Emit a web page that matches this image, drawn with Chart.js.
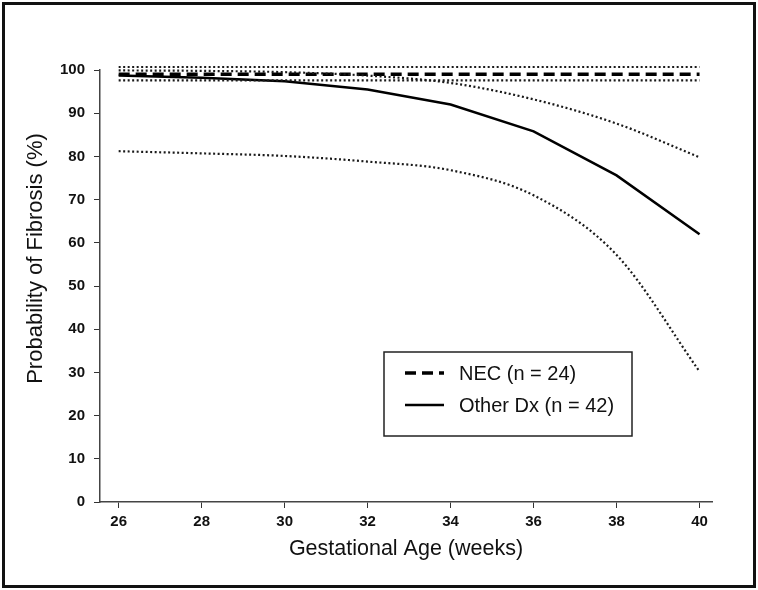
<!DOCTYPE html>
<html>
<head>
<meta charset="utf-8">
<script src="https://cdn.jsdelivr.net/npm/chart.js@4.4.1/dist/chart.umd.min.js"></script>
<style>
  html, body { margin: 0; padding: 0; background: #fff; }
  #wrap { position: relative; width: 758px; height: 590px; }
  #frame { position: absolute; left: 2px; top: 2px; width: 748px; height: 580px; border: 3px solid #111; pointer-events: none; }
  canvas { display: block; }
</style>
</head>
<body>
<div id="wrap">
  <canvas id="fibrosisChart" width="758" height="590"></canvas>
  <div id="frame"></div>
</div>
<script>
// gestational age (weeks)
const ages = [26, 28, 30, 32, 34, 36, 38, 40];
const xTicks = [26, 28, 30, 32, 34, 36, 38, 40];

// NEC (n = 24): estimate with confidence limits
const necEst = [99.0, 99.0, 99.0, 99.0, 99.0, 99.0, 99.0, 99.0];
const necUpper = [100.7, 100.7, 100.7, 100.7, 100.7, 100.7, 100.7, 100.7];
const necLower = [97.6, 97.6, 97.6, 97.6, 97.6, 97.6, 97.6, 97.6];

// Other Dx (n = 42): estimate with confidence limits
const otherEst = [98.7, 98.2, 97.4, 95.5, 92.0, 85.8, 75.6, 62.0];
const otherUpper = [99.9, 99.8, 99.5, 98.7, 97.0, 93.2, 87.6, 79.8];
const otherLower = [81.2, 80.7, 80.1, 78.8, 76.8, 71.0, 57.2, 30.2];

const toPoints = (arr) => arr.map((v, i) => ({ x: ages[i], y: v }));

const dotted = (label, values) => ({
  label: label,
  data: toPoints(values),
  borderColor: "#1a1a1a",
  borderWidth: 2.2,
  borderDash: [2, 2.5],
  pointRadius: 0,
  cubicInterpolationMode: "monotone",
  clip: false,
  inLegend: false,
});

const legendBox = {
  id: "legendBox",
  afterDraw(chart) {
    const ctx = chart.ctx;
    const area = chart.chartArea;
    const x0 = area.left + 284;
    const y0 = area.top + 282;
    const w = 248;
    const h = 84;
    ctx.save();
    ctx.fillStyle = "#fff";
    ctx.fillRect(x0, y0, w, h);
    ctx.strokeStyle = "#222";
    ctx.lineWidth = 1.5;
    ctx.strokeRect(x0, y0, w, h);
    const items = chart.data.datasets.filter((d) => d.inLegend);
    items.forEach((d, i) => {
      const y = y0 + 21 + i * 32;
      ctx.beginPath();
      ctx.setLineDash(d.borderDash || []);
      ctx.lineWidth = d.borderWidth;
      ctx.strokeStyle = "#000";
      ctx.moveTo(x0 + 21, y);
      ctx.lineTo(x0 + 60, y);
      ctx.stroke();
      ctx.setLineDash([]);
      ctx.fillStyle = "#111";
      ctx.font = "20px 'Liberation Sans', Arial, sans-serif";
      ctx.textBaseline = "middle";
      ctx.fillText(d.label, x0 + 75, y + 1);
    });
    ctx.restore();
  },
};

const ctx = document.getElementById("fibrosisChart").getContext("2d");

const chart = new Chart(ctx, {
  type: "line",
  data: {
    datasets: [
      dotted("NEC upper", necUpper),
      dotted("NEC lower", necLower),
      dotted("Other Dx upper", otherUpper),
      dotted("Other Dx lower", otherLower),
      {
        label: "NEC (n = 24)",
        data: toPoints(necEst),
        borderColor: "#000",
        borderWidth: 3.5,
        borderDash: [11, 6],
        pointRadius: 0,
        clip: false,
        inLegend: true,
      },
      {
        label: "Other Dx (n = 42)",
        data: toPoints(otherEst),
        borderColor: "#000",
        borderWidth: 2.5,
        pointRadius: 0,
        tension: 0,
        clip: false,
        inLegend: true,
      },
    ],
  },
  options: {
    responsive: false,
    animation: false,
    layout: {
      padding: { left: 10, top: 70, right: 46, bottom: 24 },
    },
    plugins: {
      legend: { display: false },
      tooltip: { enabled: false },
    },
    scales: {
      x: {
        type: "linear",
        min: 25.55,
        max: 40.3,
        afterBuildTicks: (scale) => {
          scale.ticks = xTicks.map((v) => ({ value: v }));
        },
        afterFit: (scale) => {
          scale.height = 64;
        },
        title: {
          display: true,
          text: "Gestational Age (weeks)",
          color: "#111",
          font: { family: "'Liberation Sans', Arial, sans-serif", size: 21.5 },
          padding: { top: 4, bottom: 4 },
        },
        grid: {
          drawOnChartArea: false,
          drawTicks: true,
          tickLength: 6,
          tickColor: "#333",
        },
        border: { color: "#444", width: 1.5 },
        ticks: {
          color: "#111",
          padding: 5,
          maxRotation: 0,
          font: { family: "'Liberation Sans Narrow', 'Liberation Sans', Arial, sans-serif", size: 15, weight: "bold" },
        },
      },
      y: {
        type: "linear",
        min: 0,
        max: 100,
        afterFit: (scale) => {
          scale.width = 90;
        },
        title: {
          display: true,
          // leading spaces lift the rotated title a little above the axis centre
          text: " ".repeat(9) + "Probability of Fibrosis (%)",
          color: "#111",
          font: { family: "'Liberation Sans', Arial, sans-serif", size: 22 },
          padding: { top: 13, bottom: 0 },
        },
        grid: {
          drawOnChartArea: false,
          drawTicks: true,
          tickLength: 6,
          tickColor: "#333",
        },
        border: { color: "#444", width: 1.5 },
        ticks: {
          stepSize: 10,
          color: "#111",
          padding: 9,
          font: { family: "'Liberation Sans', Arial, sans-serif", size: 15, weight: "bold" },
        },
      },
    },
  },
  plugins: [legendBox],
});
</script>
</body>
</html>
